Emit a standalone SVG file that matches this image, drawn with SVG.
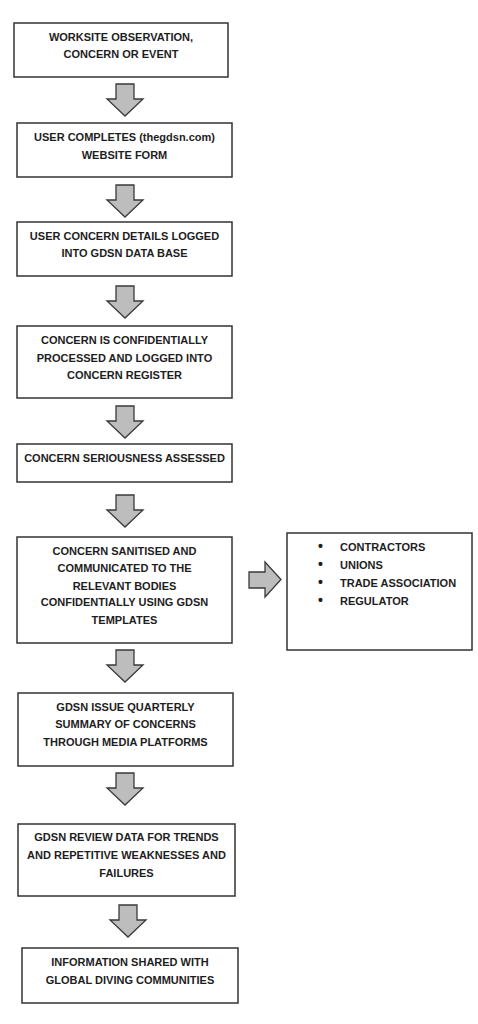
<svg xmlns="http://www.w3.org/2000/svg" xmlns:xlink="http://www.w3.org/1999/xlink" width="478" height="1024" viewBox="0 0 478 1024">
<style>
.box{fill:#fff;stroke:#333;stroke-width:1.5}
.arr{fill:#bdbdbd;stroke:#3a3a3a;stroke-width:1.3;stroke-linejoin:miter}
text{font-family:"Liberation Sans",Arial,sans-serif;font-weight:bold;font-size:11px;fill:#1e1e1e}
.c{text-anchor:middle}
.dot{fill:#1e1e1e}
</style>
<defs>
<path id="darr" d="M-9,0 H9 V15 H18 L0,32 L-18,15 H-9 Z"/>
</defs>
<rect width="478" height="1024" fill="#fff"/>
<g id="connectors">
<use xlink:href="#darr" class="arr" transform="translate(125,84)"/>
<use xlink:href="#darr" class="arr" transform="translate(125,185)"/>
<use xlink:href="#darr" class="arr" transform="translate(125,286)"/>
<use xlink:href="#darr" class="arr" transform="translate(125,406)"/>
<use xlink:href="#darr" class="arr" transform="translate(125,495)"/>
<use xlink:href="#darr" class="arr" transform="translate(125,650)"/>
<use xlink:href="#darr" class="arr" transform="translate(125,773)"/>
<use xlink:href="#darr" class="arr" transform="translate(128,905)"/>
<path class="arr" d="M249,572 H265 V562 L281,579.5 L265,597 V588 H249 Z"/>
</g>
<g id="n1">
<rect class="box" x="14" y="23" width="214" height="54"/>
<text class="c" x="121" y="41">WORKSITE OBSERVATION,</text>
<text class="c" x="121" y="58">CONCERN OR EVENT</text>
</g>
<g id="n2">
<rect class="box" x="17" y="123" width="215" height="54"/>
<text class="c" x="124.5" y="141">USER COMPLETES (thegdsn.com)</text>
<text class="c" x="124.5" y="159">WEBSITE FORM</text>
</g>
<g id="n3">
<rect class="box" x="17" y="222" width="215" height="54"/>
<text class="c" x="124.5" y="240">USER CONCERN DETAILS LOGGED</text>
<text class="c" x="124.5" y="257">INTO GDSN DATA BASE</text>
</g>
<g id="n4">
<rect class="box" x="17" y="326" width="215" height="72"/>
<text class="c" x="124.5" y="344">CONCERN IS CONFIDENTIALLY</text>
<text class="c" x="124.5" y="362">PROCESSED AND LOGGED INTO</text>
<text class="c" x="124.5" y="379">CONCERN REGISTER</text>
</g>
<g id="n5">
<rect class="box" x="17" y="444" width="215" height="38"/>
<text class="c" x="124.5" y="462">CONCERN SERIOUSNESS ASSESSED</text>
</g>
<g id="n6">
<rect class="box" x="17" y="537" width="215" height="106"/>
<text class="c" x="124.5" y="555">CONCERN SANITISED AND</text>
<text class="c" x="124.5" y="572">COMMUNICATED TO THE</text>
<text class="c" x="124.5" y="590">RELEVANT BODIES</text>
<text class="c" x="124.5" y="606">CONFIDENTIALLY USING GDSN</text>
<text class="c" x="124.5" y="624">TEMPLATES</text>
</g>
<g id="n7">
<rect class="box" x="287" y="533" width="185" height="117"/>
<text x="318" y="551" style="font-size:14px">•</text><text x="340" y="551">CONTRACTORS</text>
<text x="318" y="569" style="font-size:14px">•</text><text x="340" y="569">UNIONS</text>
<text x="318" y="587" style="font-size:14px">•</text><text x="340" y="587">TRADE ASSOCIATION</text>
<text x="318" y="605" style="font-size:14px">•</text><text x="340" y="605">REGULATOR</text>
</g>
<g id="n8">
<rect class="box" x="18" y="693" width="215" height="73"/>
<text class="c" x="125.5" y="711">GDSN ISSUE QUARTERLY</text>
<text class="c" x="125.5" y="728">SUMMARY OF CONCERNS</text>
<text class="c" x="125.5" y="746">THROUGH MEDIA PLATFORMS</text>
</g>
<g id="n9">
<rect class="box" x="18" y="824" width="217" height="72"/>
<text class="c" x="126.5" y="841">GDSN REVIEW DATA FOR TRENDS</text>
<text class="c" x="126.5" y="859">AND REPETITIVE WEAKNESSES AND</text>
<text class="c" x="126.5" y="877">FAILURES</text>
</g>
<g id="n10">
<rect class="box" x="22" y="948" width="216" height="55"/>
<text class="c" x="130" y="966">INFORMATION SHARED WITH</text>
<text class="c" x="130" y="984">GLOBAL DIVING COMMUNITIES</text>
</g>
</svg>
